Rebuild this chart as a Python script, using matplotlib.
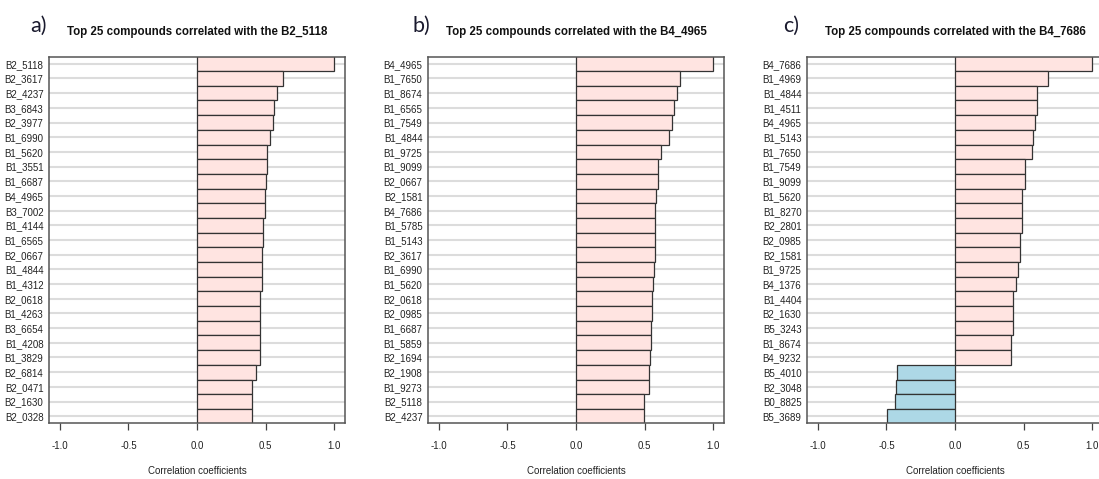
import numpy as np
import matplotlib
matplotlib.use("Agg")
import matplotlib.pyplot as plt

plt.rcParams['font.family'] = ['Liberation Sans', 'DejaVu Sans']

# compounds (top to bottom) and their correlation coefficients
names_a = ["B2_5118", "B2_3617", "B2_4237", "B3_6843", "B2_3977", "B1_6990", "B1_5620",
           "B1_3551", "B1_6687", "B4_4965", "B3_7002", "B1_4144", "B1_6565", "B2_0667",
           "B1_4844", "B1_4312", "B2_0618", "B1_4263", "B3_6654", "B1_4208", "B1_3829",
           "B2_6814", "B2_0471", "B2_1630", "B2_0328"]
corr_a = [1.0, 0.631, 0.587, 0.565, 0.553, 0.531, 0.509, 0.508, 0.506, 0.499, 0.499,
          0.484, 0.482, 0.477, 0.472, 0.472, 0.462, 0.462, 0.462, 0.460, 0.460, 0.428,
          0.403, 0.403, 0.403]

names_b = ["B4_4965", "B1_7650", "B1_8674", "B1_6565", "B1_7549", "B1_4844", "B1_9725",
           "B1_9099", "B2_0667", "B2_1581", "B4_7686", "B1_5785", "B1_5143", "B2_3617",
           "B1_6990", "B1_5620", "B2_0618", "B2_0985", "B1_6687", "B1_5859", "B2_1694",
           "B2_1908", "B1_9273", "B2_5118", "B2_4237"]
corr_b = [1.0, 0.759, 0.737, 0.715, 0.701, 0.679, 0.620, 0.601, 0.599, 0.582, 0.579,
          0.577, 0.574, 0.574, 0.569, 0.560, 0.552, 0.552, 0.547, 0.547, 0.538, 0.533,
          0.533, 0.499, 0.499]

names_c = ["B4_7686", "B1_4969", "B1_4844", "B1_4511", "B4_4965", "B1_5143", "B1_7650",
           "B1_7549", "B1_9099", "B1_5620", "B1_8270", "B2_2801", "B2_0985", "B2_1581",
           "B1_9725", "B4_1376", "B1_4404", "B2_1630", "B5_3243", "B1_8674", "B4_9232",
           "B5_4010", "B2_3048", "B0_8825", "B5_3689"]
corr_c = [1.0, 0.679, 0.601, 0.598, 0.581, 0.571, 0.559, 0.508, 0.508, 0.491, 0.488,
          0.486, 0.471, 0.471, 0.459, 0.447, 0.425, 0.422, 0.422, 0.410, 0.410, -0.420,
          -0.430, -0.437, -0.493]

panels = [("a)", "B2_5118", names_a, corr_a),
          ("b)", "B4_4965", names_b, corr_b),
          ("c)", "B4_7686", names_c, corr_c)]

W, H = 1099, 479
fig = plt.figure(figsize=(W / 100, H / 100), dpi=100)

def px_axes(left, top, width, height):
    return fig.add_axes([left / W, (H - top - height) / H, width / W, height / H])

lefts = [49, 428, 807]
letter_x = [30, 412, 783]

for (letter, target, names, corr), left, lx in zip(panels, lefts, letter_x):
    ax = px_axes(left, 57, 296, 366)
    n = len(names)
    y = np.arange(n)[::-1]
    vals = np.array(corr)
    colors = np.where(vals >= 0, "#ffe4e1", "#add8e6")
    ax.barh(y, vals, height=1.0, color=colors, edgecolor="#333333", linewidth=0.9, zorder=2)

    ax.set_xlim(-1.08, 1.08)
    ax.set_ylim(-0.46, n - 0.54)
    ax.set_yticks(y)
    ax.set_yticklabels(names)
    ax.set_xticks([-1.0, -0.5, 0.0, 0.5, 1.0])
    ax.set_xticklabels(["-1.0", "-0.5", "0.0", "0.5", "1.0"])
    ax.grid(axis="y", color="#dcdcdc", linewidth=1.5, zorder=0)
    ax.set_axisbelow(True)

    ax.tick_params(axis="y", length=0, pad=4, labelsize=7, labelcolor="#222222")
    ax.tick_params(axis="x", length=5, width=0.9, color="#444444", pad=8,
                   labelsize=7, labelcolor="#222222")
    for s in ax.spines.values():
        s.set_color("#555555")
        s.set_linewidth(1.1)

    ax.set_xlabel("Correlation coefficients", fontsize=7, color="#222222", labelpad=11)
    ax.set_title("Top 25 compounds correlated with the " + target,
                 fontsize=8.3, fontweight="bold", color="#111111", pad=16)

    fig.text(lx / W, 1 - 26 / H, letter, fontsize=15.5, family=["Lato", "DejaVu Sans"],
             color="#1a1a2e", ha="left", va="center")

fig.savefig("out.png", dpi=100)
